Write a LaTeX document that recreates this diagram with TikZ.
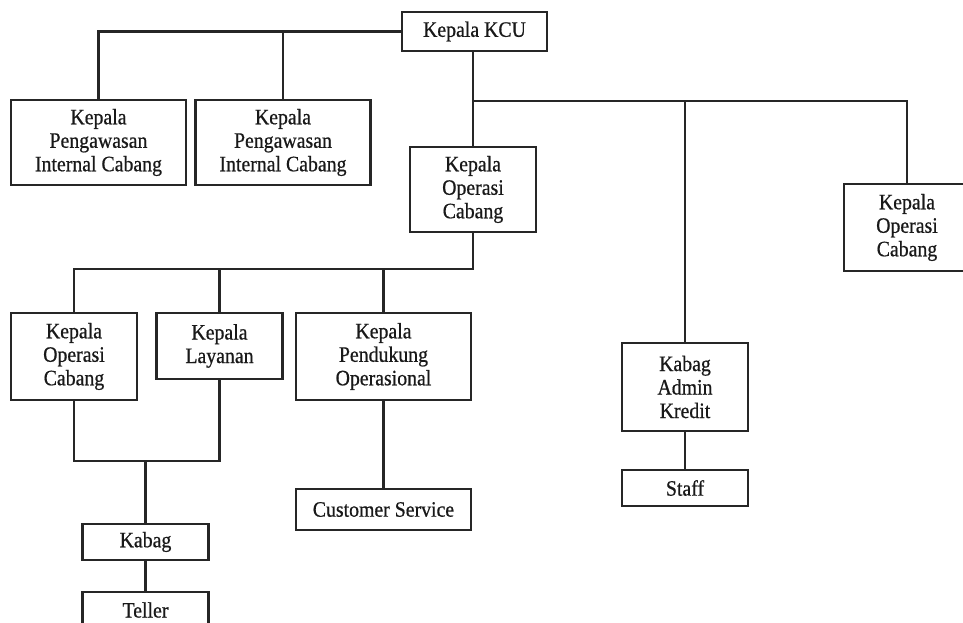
\documentclass[tikz,border=0pt]{standalone}
\usepackage{fontspec}
\setmainfont[FakeStretch=0.9,FakeBold=0.6]{Liberation Serif}
\begin{document}
\begin{tikzpicture}[x=1pt,y=-1pt,
  orgBox/.style={draw=black!85,line width=2.6pt,fill=white,align=center,
    inner sep=0pt,text=black!90,font=\fontsize{22}{23.5}\selectfont},
  narrowBox/.style={orgBox,minimum width=126pt},
  wideBox/.style={orgBox,minimum width=175pt},
  link/.style={draw=black!85,line width=2.6pt}
]
    \useasboundingbox (0,0) rectangle (963,623);
    \clip (0,0) rectangle (963,623);
    \fill[white] (0,0) rectangle (963,623);

    % top level
    \node[orgBox,minimum width=145pt,minimum height=39pt] (kcu) at (474.5,31.5) {Kepala KCU};
    \node[wideBox,minimum height=85pt] (picA) at (98.5,142.5) {Kepala\\Pengawasan\\Internal Cabang};
    \node[wideBox,minimum height=85pt] (picB) at (283,142.5) {Kepala\\Pengawasan\\Internal Cabang};
    \node[narrowBox,minimum height=85pt] (opsMid) at (473,189.5) {Kepala\\Operasi\\Cabang};
    \node[narrowBox,minimum height=87pt] (opsRight) at (907,227.5) {Kepala\\Operasi\\Cabang};

    % second level
    \node[narrowBox,minimum height=87pt] (opsLeft) at (74,356.5) {Kepala\\Operasi\\Cabang};
    \node[narrowBox,minimum height=66pt] (layanan) at (219.5,346) {Kepala\\Layanan};
    \node[wideBox,minimum height=87pt] (pendukung) at (383.5,356.5) {Kepala\\Pendukung\\Operasional};
    \node[narrowBox,minimum height=88pt] (admin) at (685,387) {Kabag\\Admin\\Kredit};

    % bottom level
    \node[narrowBox,minimum height=36pt] (kabag) at (145.5,542) {Kabag};
    \node[narrowBox,minimum height=36pt] (teller) at (145.5,610) {Teller};
    \node[wideBox,minimum height=41pt] (custServ) at (383.5,509.5) {Customer Service};
    \node[narrowBox,minimum height=36pt] (staff) at (685,488) {Staff};

    \coordinate (busTop) at (473,101);
    \coordinate (busMid) at (473,269);
    \coordinate (joinLow) at (145.5,461);

    \draw[link] (kcu.west) -| (picA.north);
    \draw[link] (picB.north) -- (picB.north |- kcu.west);
    \draw[link] (opsMid.north |- kcu.south) -- (opsMid.north);
    \draw[link] (busTop) -| (opsRight.north);
    \draw[link] (admin.north) -- (admin.north |- busTop);
    \draw[link] (opsMid.south) -- (busMid) -| (opsLeft.north);
    \draw[link] (layanan.north) -- (layanan.north |- busMid);
    \draw[link] (pendukung.north) -- (pendukung.north |- busMid);
    \draw[link] (opsLeft.south) |- (joinLow) -| (layanan.south);
    \draw[link] (joinLow) -- (kabag.north);
    \draw[link] (kabag) -- (teller);
    \draw[link] (pendukung) -- (custServ);
    \draw[link] (admin) -- (staff);
\end{tikzpicture}
\end{document}
